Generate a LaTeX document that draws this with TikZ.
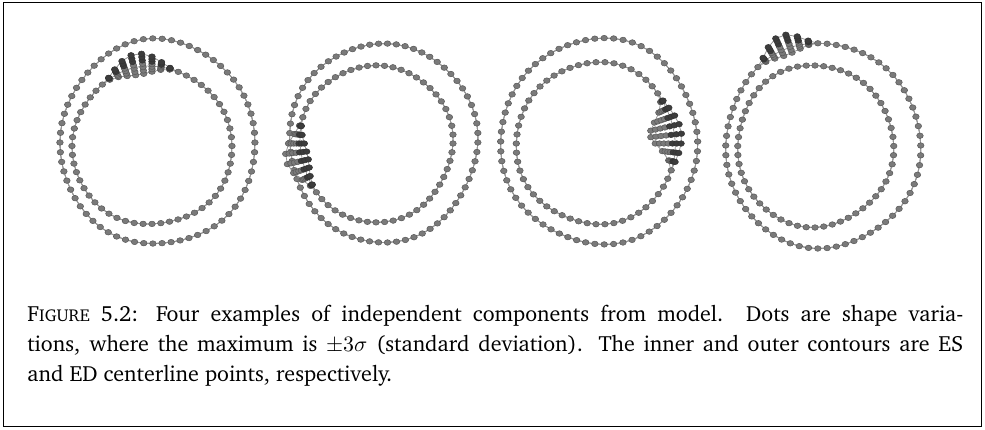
\documentclass[tikz,border=0pt]{standalone}
\usepackage[T1]{fontenc}
\usepackage{charter}
\usetikzlibrary{calc}
\definecolor{dotfill}{HTML}{7A7A7A}
\definecolor{dotedge}{HTML}{585858}
\definecolor{dotdarkfill}{HTML}{3C3C3C}
\definecolor{linkgray}{HTML}{959595}
\tikzset{
  cline/.style={draw=linkgray,line width=0.4pt},
  dotgray/.style={fill=dotfill,draw=dotedge,line width=0.25pt},
  dotdark/.style={fill=dotdarkfill,draw=black!80,line width=0.25pt},
}
\newcount\ringno
% one contour of landmark points:
% #1,#2 centre, #3,#4 radii, #5 number of points,
% #6 angle of the varying region, #7 its half width (1 = none),
% #8 offset of the dark (+3 sigma) end, #9 offset of the grey (-3 sigma) end
\newcommand\ringdots[9]{%
  \global\advance\ringno by 1
  \edef\rid{r\the\ringno}%
  \def\rcx{#1}\def\rcy{#2}\def\rrx{#3}\def\rry{#4}\def\rn{#5}%
  \def\bth{#6}\def\bwd{#7}\def\bdk{#8}\def\bgy{#9}\def\rph{#1}%
  \pgfmathsetmacro\rstep{360/\rn}%
  % mean, +3 sigma and -3 sigma positions of every point, with their links
  \foreach \kk in {0,...,\rn}{%
    \pgfmathsetmacro\rth{\rstep*\kk}%
    \pgfmathsetmacro\dd{mod(\rth-\bth+540,360)-180}%
    \pgfmathsetmacro\uu{min(1,abs(\dd)/\bwd)}%
    \pgfmathsetmacro\wt{0.5+0.5*cos(180*\uu)}%
    \pgfmathsetmacro\rfac{1+0.011*sin(3*\rth+\rph)+0.007*sin(5*\rth+2*\rph)}%
    \pgfmathsetmacro\ax{\rrx*\rfac}%
    \pgfmathsetmacro\ay{\rry*\rfac}%
    \pgfmathsetmacro\dk{\bdk*\wt}%
    \pgfmathsetmacro\gy{\bgy*\wt}%
    \coordinate (\rid m\kk) at ({\rcx+\ax*cos(\rth)},{\rcy-\ay*sin(\rth)});
    \coordinate (\rid d\kk) at ({\rcx+(\ax+\dk)*cos(\rth)},{\rcy-(\ay+\dk)*sin(\rth)});
    \coordinate (\rid g\kk) at ({\rcx+(\ax+\gy)*cos(\rth)},{\rcy-(\ay+\gy)*sin(\rth)});
    \ifnum\kk>0
      \pgfmathtruncatemacro\pk{\kk-1}%
      \draw[cline] (\rid m\pk) -- (\rid m\kk);
      \draw[cline] (\rid d\pk) -- (\rid d\kk);
      \draw[cline] (\rid g\pk) -- (\rid g\kk);
    \fi
  }%
  % the points themselves: a bar of seven dots where the shape varies
  \foreach \kk in {1,...,\rn}{%
    \pgfmathsetmacro\rth{\rstep*\kk}%
    \pgfmathsetmacro\dd{mod(\rth-\bth+540,360)-180}%
    \pgfmathsetmacro\uu{min(1,abs(\dd)/\bwd)}%
    \pgfmathsetmacro\wt{0.5+0.5*cos(180*\uu)}%
    \def\isbar{0}%
    \ifdim\bwd pt>1.5pt \ifdim\wt pt>0.03pt \def\isbar{1}\fi\fi
    \ifnum\isbar=1
      \draw[cline] (\rid g\kk) -- (\rid d\kk);
      \foreach \jj in {0,...,6}{%
        \ifnum\jj>3 \def\dstyle{dotdark}\else\def\dstyle{dotgray}\fi
        \filldraw[\dstyle] ($(\rid g\kk)!\jj/6!(\rid d\kk)$)
          circle[x radius=1.65pt,y radius=1.4pt];
      }%
    \else
      \filldraw[dotgray] (\rid m\kk) circle[x radius=1.65pt,y radius=1.4pt];
    \fi
  }%
}
\begin{document}
\begin{tikzpicture}[x=0.5pt,y=-0.5pt]
\useasboundingbox (0,0) rectangle (985,429);
\draw[line width=0.5pt] (3,2) rectangle (981,426);

% first pair: variation on the inner contour, top
\ringdots{157.5}{142.5}{97.5}{102.5}{66}{0}{1}{0}{0}
\ringdots{152}{146}{80}{79}{56}{100}{28}{13}{-8}
% second pair: variation on the inner contour, left
\ringdots{383}{142.5}{94}{99.5}{66}{0}{1}{0}{0}
\ringdots{376}{143.5}{76.5}{78.5}{56}{190}{28}{-6}{16}
% third pair: variation on the inner contour, right
\ringdots{599.5}{141.5}{98.5}{103}{66}{0}{1}{0}{0}
\ringdots{596}{143.5}{79.5}{81}{56}{8}{30}{7}{-24}
% fourth pair: variation on the outer contour, top
\ringdots{822.5}{145.5}{97.5}{102.5}{66}{112}{20}{14}{-6}
\ringdots{815}{146}{78}{81}{56}{0}{1}{0}{0}

\node[anchor=north west,inner sep=0pt,text width=468pt,align=justify,
      font=\fontsize{11}{15}\selectfont] (caption) at (27,305)
  {F{\fontsize{8.6}{10}\selectfont IGURE} 5.2: Four examples of independent components from model. Dots are shape varia-\linebreak
   tions, where the maximum is $\pm3\sigma$ (standard deviation). The inner and outer contours are ES\linebreak
   and ED centerline points, respectively.};
\end{tikzpicture}
\end{document}
